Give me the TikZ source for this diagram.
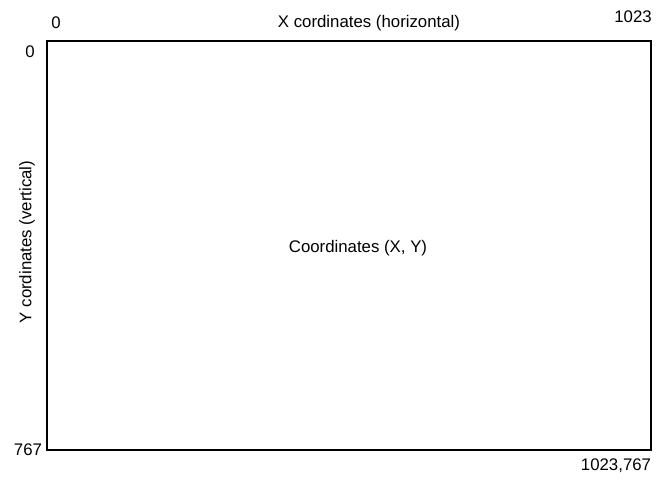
\documentclass[tikz,border=0pt]{standalone}
\usepackage{fontspec}
\setmainfont{Liberation Sans}
\usetikzlibrary{positioning}

\begin{document}
\begin{tikzpicture}[x=1pt, y=-1pt,
      lbl/.style={inner sep=0pt, font=\fontsize{16.8}{19}\selectfont}]
    \useasboundingbox (0,0) rectangle (671,483);
    \coordinate (tl) at (47,41);
    \coordinate (br) at (651,450);
    \draw[line width=2pt] (tl) rectangle (br);
    \node[lbl] (x0)    at (56,23)   {0};
    \node[lbl] (xmax)  at (633,17)  {1023};
    \node[lbl] (xname) at (369,23)  {X cordinates (horizontal)};
    \node[lbl] (y0)    at (30,52)   {0};
    \node[lbl] (ymax)  at (28,450)  {767};
    \node[lbl, rotate=90] (yname) at (27,242) {Y cordinates (vertical)};
    \node[lbl] (corner) at (616,466) {1023,767};
    \node[lbl] (centre) at (358,248) {Coordinates (X, Y)};
  \end{tikzpicture}
\end{document}
